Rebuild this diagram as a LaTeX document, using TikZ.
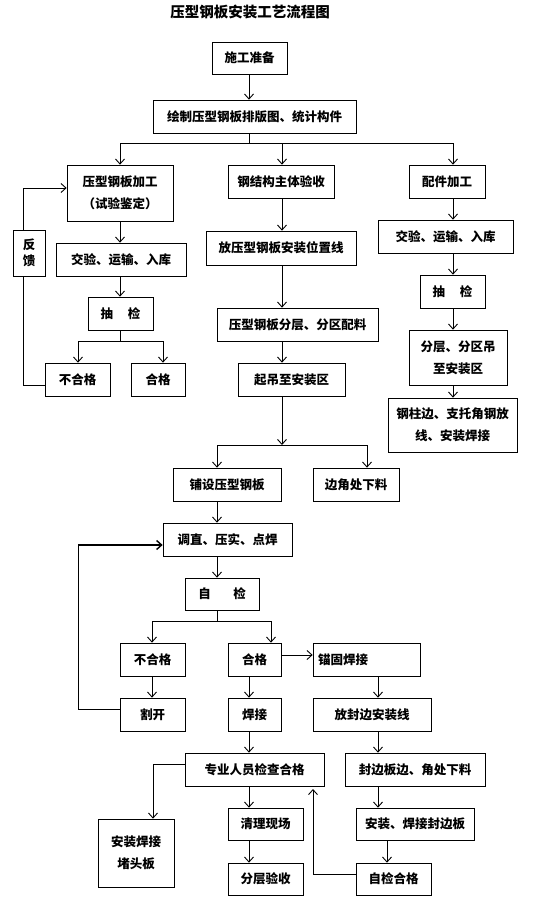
\documentclass[tikz,border=0pt]{standalone}
\usepackage{fontspec}
\newfontfamily\cjk{Noto Sans CJK SC}
\usetikzlibrary{arrows.meta}
\begin{document}
\begin{tikzpicture}[x=1pt,y=-1pt,
  bx/.style={draw, line width=0.7pt, inner sep=0pt, align=center, font=\cjk\bfseries\fontsize{12.5}{22}\selectfont},
  arr/.style={line width=0.9pt, -{Straight Barb[length=5pt,width=9pt]}},
  ln/.style={line width=0.7pt}]
\useasboundingbox (0,0) rectangle (555,907);
\node[font=\cjk\bfseries\fontsize{14.5}{16}\selectfont] (title) at (250,12) {压型钢板安装工艺流程图};
% nodes
\node[bx, minimum width=75pt, minimum height=32pt] (prep) at (249.5,58) {施工准备};
\node[bx, minimum width=203pt, minimum height=33pt] (draw) at (254.5,116.5) {绘制压型钢板排版图、统计构件};
\node[bx, minimum width=106pt, minimum height=56pt] (jg) at (120,193) {压型钢板加工\\（试验鉴定）};
\node[bx, minimum width=106pt, minimum height=33pt] (gjg) at (281,181.5) {钢结构主体验收};
\node[bx, minimum width=76pt, minimum height=33pt] (pj) at (447,181.5) {配件加工};
\node[bx, minimum width=32pt, minimum height=46pt, font=\cjk\bfseries\fontsize{12.5}{16}\selectfont] (fk) at (29,253) {反\\馈};
\node[bx, minimum width=130pt, minimum height=33pt] (jy1) at (121,259.5) {交验、运输、入库};
\node[bx, minimum width=65pt, minimum height=33pt] (cj1) at (120.5,313.5) {抽\hspace{1.2em}检};
\node[bx, minimum width=65pt, minimum height=33pt] (bhg1) at (77.5,379.5) {不合格};
\node[bx, minimum width=54pt, minimum height=33pt] (hg1) at (158,379.5) {合格};
\node[bx, minimum width=150pt, minimum height=34pt] (fx) at (281,248) {放压型钢板安装位置线};
\node[bx, minimum width=161pt, minimum height=33pt] (fc) at (297.5,324.5) {压型钢板分层、分区配料};
\node[bx, minimum width=107pt, minimum height=33pt] (qd) at (291.5,379.5) {起吊至安装区};
\node[bx, minimum width=135pt, minimum height=33pt] (jy2) at (445.5,236.5) {交验、运输、入库};
\node[bx, minimum width=65pt, minimum height=33pt] (cj2) at (452.5,291.5) {抽\hspace{1.2em}检};
\node[bx, minimum width=98pt, minimum height=55pt] (fcd) at (458,357.5) {分层、分区吊\\至安装区};
\node[bx, minimum width=129pt, minimum height=54pt] (gz) at (452.5,425) {钢柱边、支托角钢放\\线、安装焊接};
\node[bx, minimum width=108pt, minimum height=33pt] (ps) at (227,484.5) {铺设压型钢板};
\node[bx, minimum width=86pt, minimum height=33pt] (bj) at (356,484.5) {边角处下料};
\node[bx, minimum width=129pt, minimum height=33pt] (tz) at (227.5,539.5) {调直、压实、点焊};
\node[bx, minimum width=74pt, minimum height=32pt] (zj) at (222,594) {自\hspace{1.8em}检};
\node[bx, minimum width=65pt, minimum height=33pt] (bhg2) at (152.5,659.5) {不合格};
\node[bx, minimum width=53pt, minimum height=33pt] (hg2) at (254.5,659.5) {合格};
\node[bx, minimum width=107pt, minimum height=33pt, text width=97pt, align=left] (mg) at (366.5,659.5) {锚固焊接};
\node[bx, minimum width=65pt, minimum height=33pt] (gk) at (152.5,714.5) {割开};
\node[bx, minimum width=53pt, minimum height=33pt] (hj) at (254.5,714.5) {焊接};
\node[bx, minimum width=118pt, minimum height=33pt] (ffb) at (372,714.5) {放封边安装线};
\node[bx, minimum width=139pt, minimum height=33pt] (zy) at (254.5,769.5) {专业人员检查合格};
\node[bx, minimum width=140pt, minimum height=33pt] (fbb) at (415,769.5) {封边板边、角处下料};
\node[bx, minimum width=76pt, minimum height=68pt] (dt) at (136,853) {安装焊接\\堵头板};
\node[bx, minimum width=75pt, minimum height=32pt] (ql) at (265.5,824) {清理现场};
\node[bx, minimum width=75pt, minimum height=32pt] (fcys) at (265.5,879) {分层验收};
\node[bx, minimum width=118pt, minimum height=32pt] (azfb) at (415,824) {安装、焊接封边板};
\node[bx, minimum width=75pt, minimum height=32pt] (zjhg) at (393.5,879) {自检合格};
% junction coordinates
\coordinate (j1) at (249,143);
\coordinate (j1l) at (120,143);
\coordinate (j1m) at (282,143);
\coordinate (j1r) at (453,143);
\coordinate (j2) at (120,341);
\coordinate (j2l) at (78,341);
\coordinate (j2r) at (163,341);
\coordinate (fkb) at (23,385);
\coordinate (fkt) at (23,188);
\coordinate (j3) at (282,445);
\coordinate (j3l) at (217,445);
\coordinate (j3r) at (367,445);
\coordinate (j4) at (217,621);
\coordinate (j4l) at (152,621);
\coordinate (j4r) at (271,621);
\coordinate (lp) at (78,709);
\coordinate (lpt) at (78,545);
\coordinate (zyl) at (153,764);
\coordinate (zjl) at (313,874);
\coordinate (zjt) at (313,789);
\coordinate (hgr) at (281,655);
% top
\draw[arr] (prep.south -| j1) -- (draw.north -| j1);
\draw[ln] (draw.south -| j1) -- (j1);
\draw[ln] (j1l) -- (j1r);
\draw[arr] (j1l) -- (jg.north -| j1l);
\draw[arr] (j1m) -- (gjg.north -| j1m);
\draw[arr] (j1r) -- (pj.north -| j1r);
% left column
\draw[arr] (jg.south -| j1l) -- (jy1.north -| j1l);
\draw[arr] (jy1.south -| j1l) -- (cj1.north -| j1l);
\draw[ln] (cj1.south -| j2) -- (j2);
\draw[ln] (j2l) -- (j2r);
\draw[arr] (j2l) -- (bhg1.north -| j2l);
\draw[arr] (j2r) -- (hg1.north -| j2r);
\draw[ln] (bhg1.west |- fkb) -- (fkb) -- (fk.south -| fkb);
\draw[ln] (fk.north -| fkb) -- (fkt);
\draw[arr] (fkt) -- (jg.west |- fkt);
% middle column
\draw[arr] (gjg.south -| j1m) -- (fx.north -| j1m);
\draw[arr] (fx.south -| j1m) -- (fc.north -| j1m);
\draw[arr] (fc.south -| j1m) -- (qd.north -| j1m);
\draw[arr] (qd.south -| j3) -- (j3);
\draw[ln] (j3l) -- (j3r);
\draw[arr] (j3l) -- (ps.north -| j3l);
\draw[arr] (j3r) -- (bj.north -| j3r);
\draw[arr] (ps.south -| j3l) -- (tz.north -| j3l);
\draw[arr] (tz.south -| j3l) -- (zj.north -| j3l);
\draw[ln] (zj.south -| j4) -- (j4);
\draw[ln] (j4l) -- (j4r);
\draw[arr] (j4l) -- (bhg2.north -| j4l);
\draw[arr] (j4r) -- (hg2.north -| j4r);
\draw[arr] (hgr) -- (mg.west |- hgr);
\draw[arr] (bhg2.south -| j4l) -- (gk.north -| j4l);
\draw[arr] (hg2.south -| j1) -- (hj.north -| j1);
\draw[arr] (mg.south -| 378,0) -- (ffb.north -| 378,0);
\draw[arr] (hj.south -| j1) -- (zy.north -| j1);
\draw[arr] (ffb.south -| 378,0) -- (fbb.north -| 378,0);
\draw[arr] (zy.south -| j1) -- (ql.north -| j1);
\draw[arr] (ql.south -| j1) -- (fcys.north -| j1);
\draw[arr] (fbb.south -| 378,0) -- (azfb.north -| 378,0);
\draw[arr] (azfb.south -| 387,0) -- (zjhg.north -| 387,0);
\draw[ln] (zy.west |- zyl) -- (zyl);
\draw[arr] (zyl) -- (dt.north -| zyl);
\draw[ln] (zjhg.west |- zjl) -- (zjl);
\draw[arr] (zjl) -- (zjt);
\draw[ln] (gk.west |- lp) -- (lp) -- (lpt);
\draw[arr, line width=1.4pt] (lpt) -- (tz.west |- lpt);
% right column
\draw[arr] (pj.south -| j1r) -- (jy2.north -| j1r);
\draw[arr] (jy2.south -| j1r) -- (cj2.north -| j1r);
\draw[arr] (cj2.south -| j1r) -- (fcd.north -| j1r);
\draw[arr] (fcd.south -| j1r) -- (gz.north -| j1r);
\end{tikzpicture}
\end{document}
